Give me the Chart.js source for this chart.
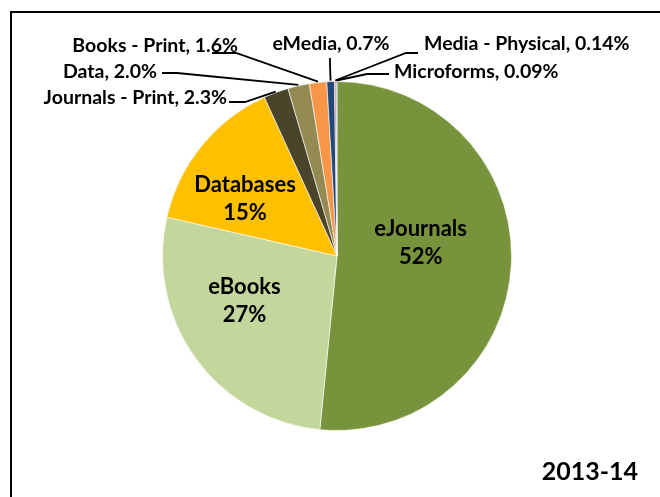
<!DOCTYPE html>
<html>
<head>
<meta charset="utf-8">
<script src="https://cdn.jsdelivr.net/npm/chart.js@4.4.1/dist/chart.umd.min.js"></script>
<style>
  html, body { margin: 0; padding: 0; background: #ffffff; overflow: hidden; }
  #wrap { position: relative; width: 660px; height: 497px; }
  #frame { position: absolute; left: 10px; top: 11px; width: 700px; height: 560px; border: 2px solid #000; box-sizing: border-box; }
  canvas { position: absolute; left: 0; top: 0; }
</style>
</head>
<body>
<div id="wrap">
  <div id="frame"></div>
  <canvas id="c" width="660" height="497"></canvas>
</div>
<script>
// ---- data ----
const categories = ["eJournals", "eBooks", "Databases", "Journals - Print", "Data", "Books - Print", "eMedia", "Media - Physical", "Microforms"];
const values = [51.57, 27.0, 14.6, 2.3, 2.0, 1.6, 0.7, 0.14, 0.09];
const decimals = [0, 0, 0, 1, 1, 1, 1, 2, 2];
const yearLabel = "2013-14";

// ---- style ----
const colors = ["#77933C", "#C3D69B", "#FFC000", "#4A452A", "#948A54", "#F79646", "#1F497D", "#C0504D", "#8EA0B8"];
const FONT = "Lato, 'Open Sans', 'Liberation Sans', sans-serif";
// inside labels: radius fraction along mid-angle + pixel nudge
const insideStyle = {
  0: { rf: 0.48, dx: 0, dy: -17 },
  1: { rf: 0.59, dx: -9, dy: -15 },
  2: { rf: 0.62, dx: -8, dy: 11 }
};
// outside labels: text anchor and elbow, relative to pie centre
const outsideStyle = {
  3: { align: "right", tx: -110, ty: -158, path: [[-108, -154], [-92, -154]] },
  4: { align: "right", tx: -180, ty: -184, path: [[-175, -183], [-160, -183]] },
  5: { align: "right", tx: -99, ty: -210, path: [[-125, -203], [-101, -203]] },
  6: { align: "center", tx: -6, ty: -212, path: [[-7, -198], [-7, -190]] },
  7: { align: "left", tx: 87, ty: -212, path: [[81, -203], [69, -203]] },
  8: { align: "left", tx: 57, ty: -184, path: [[52, -182], [30, -182]] }
};

const total = values.reduce((a, b) => a + b, 0);
function pctText(i) {
  return (values[i] / total * 100).toFixed(decimals[i]) + "%";
}

const labelPlugin = {
  id: "labels",
  afterDraw(chart) {
    const ctx = chart.ctx;
    const meta = chart.getDatasetMeta(0);
    ctx.save();
    ctx.fillStyle = "#000";
    ctx.strokeStyle = "#000";
    meta.data.forEach((arc, i) => {
      const p = arc.getProps(["x", "y", "startAngle", "endAngle", "outerRadius"], true);
      const mid = (p.startAngle + p.endAngle) / 2;
      if (insideStyle[i]) {
        const s = insideStyle[i];
        const cx = p.x + Math.cos(mid) * p.outerRadius * s.rf + s.dx;
        const cy = p.y + Math.sin(mid) * p.outerRadius * s.rf + s.dy;
        ctx.font = "bold 22px " + FONT;
        ctx.textAlign = "center";
        ctx.textBaseline = "middle";
        ctx.fillText(categories[i], cx, cy - 14);
        ctx.fillText(pctText(i), cx, cy + 14);
      } else if (outsideStyle[i]) {
        const s = outsideStyle[i];
        const ex = p.x + Math.cos(mid) * (p.outerRadius + 1);
        const ey = p.y + Math.sin(mid) * (p.outerRadius + 1);
        ctx.lineWidth = 1.8;
        ctx.beginPath();
        ctx.moveTo(p.x + s.path[0][0], p.y + s.path[0][1]);
        for (let k = 1; k < s.path.length; k++) ctx.lineTo(p.x + s.path[k][0], p.y + s.path[k][1]);
        ctx.lineTo(ex, ey);
        ctx.stroke();
        ctx.font = "bold 19.5px " + FONT;
        ctx.textAlign = s.align;
        ctx.textBaseline = "middle";
        ctx.fillText(categories[i] + ", " + pctText(i), p.x + s.tx, p.y + s.ty);
      }
    });
    ctx.font = "bold 25px " + FONT;
    ctx.textAlign = "right";
    ctx.textBaseline = "middle";
    ctx.fillText(yearLabel, 638, 472);
    ctx.restore();
  }
};

new Chart(document.getElementById("c"), {
  type: "pie",
  data: {
    labels: categories,
    datasets: [{
      data: values,
      backgroundColor: colors,
      borderColor: "rgba(255,255,255,0.6)",
      borderWidth: 1
    }]
  },
  options: {
    responsive: false,
    animation: false,
    layout: { padding: { left: 162, right: 148, top: 81, bottom: 66 } },
    plugins: { legend: { display: false }, tooltip: { enabled: false } }
  },
  plugins: [labelPlugin]
});
</script>
</body>
</html>
